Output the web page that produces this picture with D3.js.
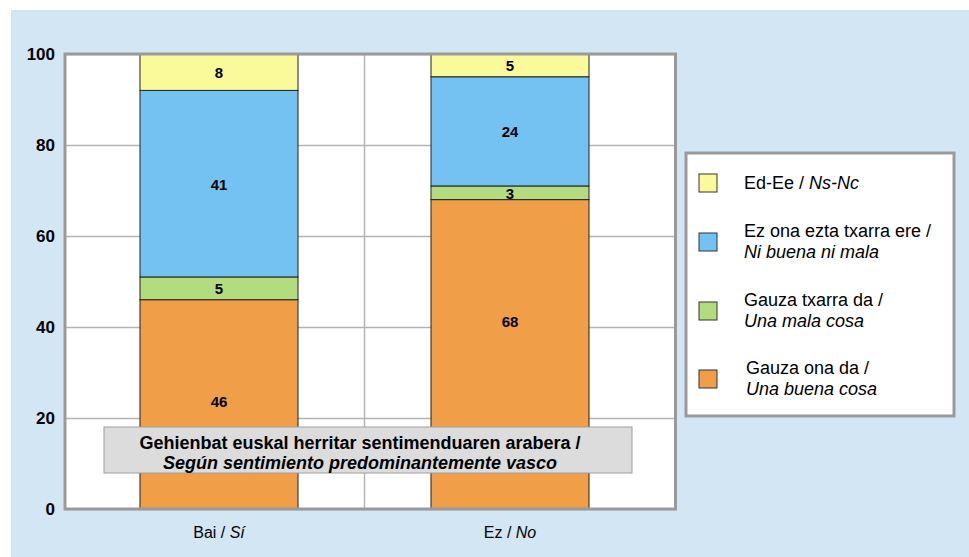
<!DOCTYPE html>
<html>
<head>
<meta charset="utf-8">
<script src="https://cdn.jsdelivr.net/npm/d3@7"></script>
<style>
  body { margin: 0; background: #fff; }
  svg text { font-family: "Liberation Sans", Arial, sans-serif; }
</style>
</head>
<body>
<svg id="chart" width="969" height="557"></svg>
<script>
'use strict';
// data
var categories = ['Bai', 'Ez'];
var categoryEs = ['Sí', 'No'];
var seriesKeys = ['ona', 'txarra', 'ezona', 'eded'];
var seriesEu = ['Gauza ona da /', 'Gauza txarra da /', 'Ez ona ezta txarra ere /', 'Ed-Ee / '];
var seriesEs = ['Una buena cosa', 'Una mala cosa', 'Ni buena ni mala', 'Ns-Nc'];
var seriesColors = ['#f09e48', '#b3dc7e', '#73c2f2', '#fafa9a'];
var valOna = [46, 68];
var valTxarra = [5, 3];
var valEzona = [41, 24];
var valEded = [8, 5];
var yTicks = [0, 20, 40, 60, 80, 100];
var noteEu = 'Gehienbat euskal herritar sentimenduaren arabera /';
var noteEs = 'Según sentimiento predominantemente vasco';

// label nudges (px) for the bottom segment labels, as placed in the original
var bottomLabelNudge = { Bai: -3, Ez: -33 };

var svg = d3.select('#chart');

// background panel
svg.append('rect')
    .attr('x', 11).attr('y', 10)
    .attr('width', 958).attr('height', 547)
    .attr('fill', '#d2e6f4');

var plot = { left: 65, top: 54, right: 675.5, bottom: 509 };

var x = d3.scaleBand()
    .domain(categories)
    .range([73.5, 655.5])
    .paddingInner(0.457)
    .paddingOuter(0.2285);
var y = d3.scaleLinear()
    .domain([0, 100])
    .range([plot.bottom, plot.top]);

// plot background
svg.append('rect')
    .attr('x', plot.left).attr('y', plot.top)
    .attr('width', plot.right - plot.left).attr('height', plot.bottom - plot.top)
    .attr('fill', '#fff');

// gridlines
var g = svg.append('g');
g.append('g')
    .attr('transform', 'translate(' + plot.left + ',0)')
    .call(d3.axisLeft(y).tickValues(yTicks).tickSize(-(plot.right - plot.left)).tickFormat(''))
    .call(function(a) {
        a.select('.domain').remove();
        a.selectAll('.tick line').attr('stroke', '#b4b4b4').attr('stroke-width', 1.5);
    });
var midX = (x('Bai') + x.bandwidth() + x('Ez')) / 2;
g.append('line')
    .attr('x1', midX).attr('x2', midX)
    .attr('y1', plot.top).attr('y2', plot.bottom)
    .attr('stroke', '#b4b4b4').attr('stroke-width', 1.5);

// stacked bars
var table = categories.map(function(c, i) {
    return { cat: c, ona: valOna[i], txarra: valTxarra[i], ezona: valEzona[i], eded: valEded[i] };
});
var stacked = d3.stack().keys(seriesKeys)(table);

var layers = svg.append('g').selectAll('g')
    .data(stacked)
    .join('g')
    .attr('fill', function(d, i) { return seriesColors[i]; });

layers.selectAll('rect')
    .data(function(d) { return d; })
    .join('rect')
    .attr('x', function(d) { return x(d.data.cat); })
    .attr('y', function(d) { return y(d[1]); })
    .attr('width', x.bandwidth())
    .attr('height', function(d) { return y(d[0]) - y(d[1]); })
    .attr('stroke', '#222')
    .attr('stroke-width', 1);

layers.selectAll('text')
    .data(function(d) { return d; })
    .join('text')
    .attr('x', function(d) { return x(d.data.cat) + x.bandwidth() / 2; })
    .attr('y', function(d) {
        var nudge = d[0] === 0 ? bottomLabelNudge[d.data.cat] : 0;
        return (y(d[0]) + y(d[1])) / 2 + 6 + nudge;
    })
    .attr('text-anchor', 'middle')
    .attr('fill', '#000')
    .attr('font-size', 15)
    .attr('font-weight', 'bold')
    .text(function(d) { return d[1] - d[0]; });

// frame
svg.append('rect')
    .attr('x', plot.left).attr('y', plot.top)
    .attr('width', plot.right - plot.left).attr('height', plot.bottom - plot.top)
    .attr('fill', 'none')
    .attr('stroke', '#9a9a9a')
    .attr('stroke-width', 3);

// y axis labels
svg.append('g')
    .attr('transform', 'translate(' + (plot.left - 2) + ',0)')
    .call(d3.axisLeft(y).tickValues(yTicks).tickSize(0).tickPadding(8))
    .call(function(a) {
        a.select('.domain').remove();
        a.selectAll('text')
            .attr('font-family', '"Liberation Sans", Arial, sans-serif')
            .attr('font-size', 17)
            .attr('font-weight', 'bold')
            .attr('fill', '#000');
    });

// x axis labels
var xl = svg.append('g').selectAll('text')
    .data(categories)
    .join('text')
    .attr('x', function(d) { return x(d) + x.bandwidth() / 2; })
    .attr('y', 538)
    .attr('text-anchor', 'middle')
    .attr('font-size', 16)
    .attr('fill', '#000');
xl.append('tspan').text(function(d) { return d + ' / '; });
xl.append('tspan').attr('font-style', 'italic').text(function(d, i) { return categoryEs[i]; });

// note box
svg.append('rect')
    .attr('x', 104).attr('y', 427)
    .attr('width', 528).attr('height', 46)
    .attr('fill', '#dcdcdc')
    .attr('stroke', '#a0a0a0')
    .attr('stroke-width', 1);
svg.append('text')
    .attr('x', 360).attr('y', 449)
    .attr('text-anchor', 'middle')
    .attr('font-size', 18).attr('font-weight', 'bold')
    .text(noteEu);
svg.append('text')
    .attr('x', 360).attr('y', 469)
    .attr('text-anchor', 'middle')
    .attr('font-size', 18).attr('font-weight', 'bold').attr('font-style', 'italic')
    .text(noteEs);

// legend
svg.append('rect')
    .attr('x', 686).attr('y', 153)
    .attr('width', 268).attr('height', 263)
    .attr('fill', '#fff')
    .attr('stroke', '#9a9a9a')
    .attr('stroke-width', 3);

var legendOrder = [3, 2, 1, 0];
var legendY = [183, 242, 311, 379];
var legend = svg.append('g').selectAll('g')
    .data(legendOrder)
    .join('g')
    .attr('transform', function(d, i) { return 'translate(699,' + legendY[i] + ')'; });
legend.append('rect')
    .attr('x', 0).attr('y', -9)
    .attr('width', 18).attr('height', 18)
    .attr('fill', function(d) { return seriesColors[d]; })
    .attr('stroke', '#333')
    .attr('stroke-width', 1);
legend.each(function(d) {
    var el = d3.select(this);
    if (d === 3) {
        var t = el.append('text').attr('x', 45).attr('y', 6).attr('font-size', 18);
        t.append('tspan').text(seriesEu[d]);
        t.append('tspan').attr('font-style', 'italic').text(seriesEs[d]);
    } else {
        var dx = d === 0 ? 47 : 45;
        el.append('text').attr('x', dx).attr('y', -5).attr('font-size', 18).text(seriesEu[d]);
        el.append('text').attr('x', dx).attr('y', 16).attr('font-size', 18)
            .attr('font-style', 'italic').text(seriesEs[d]);
    }
});
</script>
</body>
</html>
